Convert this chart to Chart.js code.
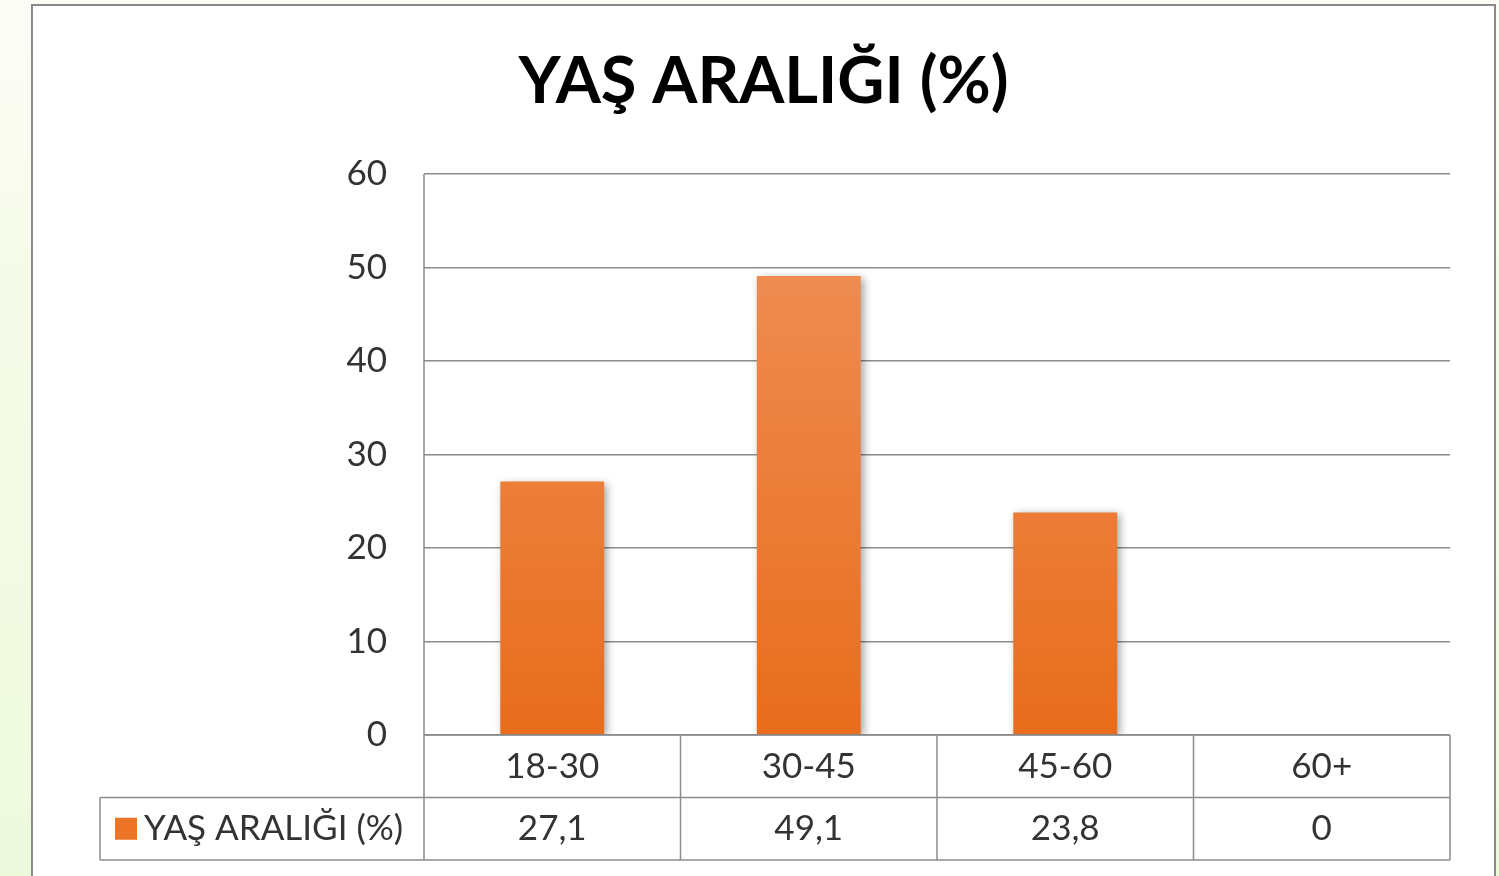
<!DOCTYPE html>
<html>
<head>
<meta charset="utf-8">
<script src="https://cdn.jsdelivr.net/npm/chart.js@4"></script>
<style>
  html,body{margin:0;padding:0;width:1499px;height:876px;overflow:hidden;
    background:linear-gradient(to bottom,#fdfdf8 0%,#f6fbe9 30%,#eefadc 100%);}
  .frame{position:absolute;left:31px;top:4px;width:1461px;height:880px;
    border:2px solid #8a8a8a;background:#fff;}
  .frame canvas{display:block;}
</style>
</head>
<body>
<div class="frame"><canvas id="chartCanvas" width="1461" height="870"></canvas></div>
<script>
// data
const categories = ['18-30','30-45','45-60','60+'];
const seriesName = 'YAŞ ARALIĞI (%)';
const values = [27.1, 49.1, 23.8, 0];
const yTicks = [0,10,20,30,40,50,60];

const FONT = 'Lato, Calibri, "Open Sans", sans-serif';
const TXT = '#333';
const LINE = '#8c8c8c';
const ROW_H = 62.5;
const LEGEND_LEFT = 67;
const SIDE = 44;

const fmt = v => String(v).replace('.', ',');

// drop shadow under the bars
const barShadow = {
  id:'barShadow',
  beforeDatasetsDraw(chart){
    const c = chart.ctx;
    c.save();
    c.shadowColor = 'rgba(0,0,0,0.35)';
    c.shadowBlur = 8;
    c.shadowOffsetX = 3;
    c.shadowOffsetY = 2;
  },
  afterDatasetsDraw(chart){ chart.ctx.restore(); }
};

// data table under the plot
const dataTable = {
  id:'dataTable',
  afterDraw(chart){
    const c = chart.ctx, a = chart.chartArea, x = chart.scales.x;
    const L = a.left, R = a.right, B = a.bottom;
    c.save();
    c.strokeStyle = LINE; c.lineWidth = 1.5;
    c.beginPath();
    c.moveTo(L, B); c.lineTo(R, B);
    c.moveTo(LEGEND_LEFT, B+ROW_H); c.lineTo(R, B+ROW_H);
    c.moveTo(LEGEND_LEFT, B+2*ROW_H); c.lineTo(R, B+2*ROW_H);
    c.moveTo(L, a.top); c.lineTo(L, B+2*ROW_H);
    c.moveTo(R, B); c.lineTo(R, B+2*ROW_H);
    c.moveTo(LEGEND_LEFT, B+ROW_H); c.lineTo(LEGEND_LEFT, B+2*ROW_H);
    for(let i=0;i<categories.length-1;i++){
      const xm = (x.getPixelForValue(i)+x.getPixelForValue(i+1))/2;
      c.moveTo(xm, B); c.lineTo(xm, B+2*ROW_H);
    }
    c.stroke();

    c.fillStyle = TXT;
    c.font = '35px ' + FONT;
    c.textAlign = 'center'; c.textBaseline = 'middle';
    values.forEach((v,i)=> c.fillText(fmt(v), x.getPixelForValue(i), B+1.5*ROW_H));

    // legend key
    c.fillStyle = '#ec7424';
    c.fillRect(LEGEND_LEFT+15, B+1.5*ROW_H-11, 22, 22);
    c.fillStyle = TXT; c.textAlign = 'left';
    c.fillText(seriesName, LEGEND_LEFT+44, B+1.5*ROW_H);
    c.restore();
  }
};

new Chart(document.getElementById('chartCanvas'), {
  type:'bar',
  data:{
    labels: categories,
    datasets:[{
      label: seriesName,
      data: values,
      categoryPercentage: 1,
      barPercentage: 0.405,
      backgroundColor(ctx){
        const a = ctx.chart.chartArea;
        if(!a) return '#ec7424';
        const g = ctx.chart.ctx.createLinearGradient(0, a.top, 0, a.bottom);
        g.addColorStop(0, '#f0925c');
        g.addColorStop(1, '#e86d1c');
        return g;
      }
    }]
  },
  options:{
    responsive:false,
    animation:false,
    layout:{ padding:{ left:SIDE, right:SIDE, top:0, bottom:16 } },
    plugins:{
      legend:{ display:false },
      tooltip:{ enabled:false },
      title:{
        display:true,
        text: seriesName,
        color:'#000',
        font:{ family:FONT, size:65, weight:'bold' },
        padding:{ top:37, bottom:53 }
      }
    },
    scales:{
      x:{
        grid:{ display:false, drawTicks:false },
        border:{ display:false },
        ticks:{ color:TXT, font:{ family:FONT, size:35 }, padding:11 },
        afterFit(s){ s.height = 2*ROW_H; }
      },
      y:{
        min:0, max:60,
        afterBuildTicks(s){ s.ticks = yTicks.map(v=>({value:v})); },
        grid:{ color:LINE, lineWidth:1.5, drawTicks:false },
        border:{ display:false },
        ticks:{ color:TXT, font:{ family:FONT, size:35 }, padding:37 },
        afterFit(s){ s.width = 391 - SIDE; }
      }
    }
  },
  plugins:[barShadow, dataTable]
});
</script>
</body>
</html>
